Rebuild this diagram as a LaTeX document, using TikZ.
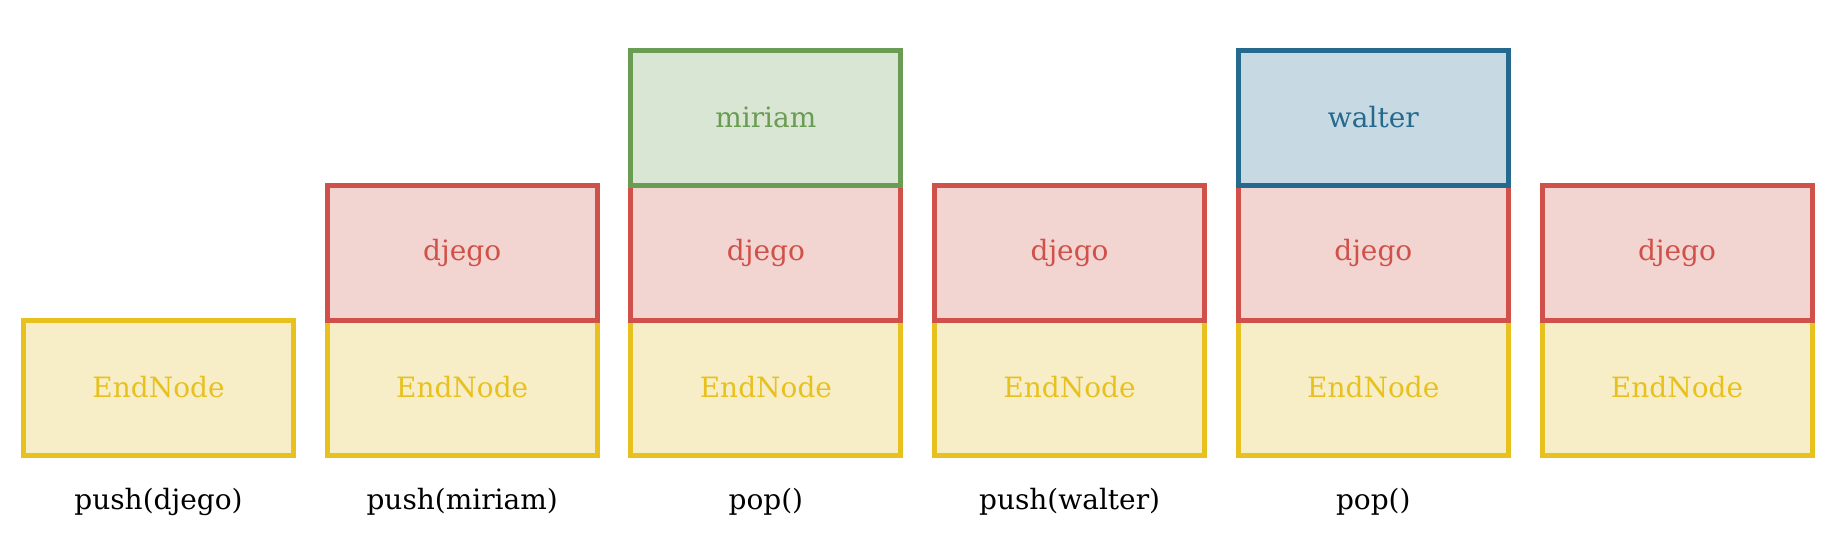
\documentclass[tikz,border=0pt]{standalone}
\usepackage{fontspec}
\setmainfont{DejaVu Serif}
\definecolor{yelS}{HTML}{E8C11F}
\definecolor{yelF}{HTML}{F7EEC7}
\definecolor{redS}{HTML}{D05149}
\definecolor{redF}{HTML}{F2D4D1}
\definecolor{grnS}{HTML}{6A9C53}
\definecolor{grnF}{HTML}{DAE6D4}
\definecolor{bluS}{HTML}{256A8E}
\definecolor{bluF}{HTML}{C7DAE3}
\tikzset{
  cell/.style={draw, line width=2.5pt, minimum width=135pt, minimum height=67.5pt, inner sep=0pt, font=\fontsize{14}{16}\selectfont},
  endcell/.style={cell, draw=yelS, fill=yelF, text=yelS},
  djcell/.style={cell, draw=redS, fill=redF, text=redS},
  mircell/.style={cell, draw=grnS, fill=grnF, text=grnS},
  walcell/.style={cell, draw=bluS, fill=bluF, text=bluS},
  oplabel/.style={font=\fontsize{14}{16}\selectfont, text=black, inner sep=0pt}
}
\begin{document}
\begin{tikzpicture}[x=0.5pt,y=-0.5pt]
\useasboundingbox (0,0) rectangle (1822,532);
% column 1
\node[endcell] (e1) at (158.5,387.5) {EndNode};
\node[oplabel] (l1) at (158.5,502) {push(djego)};
% column 2
\node[endcell] (e2) at (462.2,387.5) {EndNode};
\node[djcell] (d2) at (462.2,252.5) {djego};
\node[oplabel] (l2) at (462.2,502) {push(miriam)};
% column 3
\node[endcell] (e3) at (765.9,387.5) {EndNode};
\node[djcell] (d3) at (765.9,252.5) {djego};
\node[mircell] (m3) at (765.9,117.5) {miriam};
\node[oplabel] (l3) at (765.9,502) {pop()};
% column 4
\node[endcell] (e4) at (1069.6,387.5) {EndNode};
\node[djcell] (d4) at (1069.6,252.5) {djego};
\node[oplabel] (l4) at (1069.6,502) {push(walter)};
% column 5
\node[endcell] (e5) at (1373.3,387.5) {EndNode};
\node[djcell] (d5) at (1373.3,252.5) {djego};
\node[walcell] (w5) at (1373.3,117.5) {walter};
\node[oplabel] (l5) at (1373.3,502) {pop()};
% column 6
\node[endcell] (e6) at (1677,387.5) {EndNode};
\node[djcell] (d6) at (1677,252.5) {djego};
\end{tikzpicture}
\end{document}
